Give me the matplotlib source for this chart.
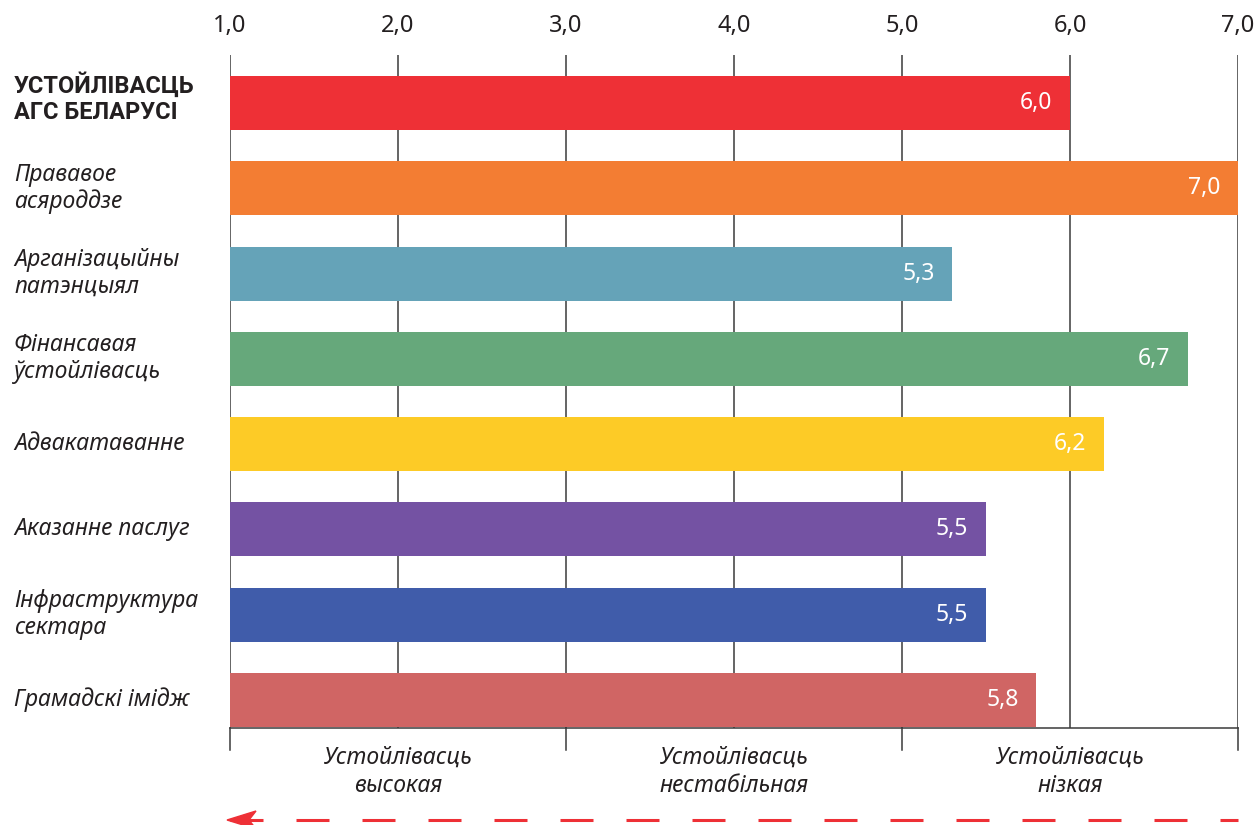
import matplotlib
matplotlib.use("Agg")
import matplotlib.pyplot as plt
from matplotlib.patches import Polygon
from matplotlib.transforms import blended_transform_factory, offset_copy

categories = [
    "УСТОЙЛІВАСЦЬ\nАГС БЕЛАРУСІ",
    "Прававое\nасяроддзе",
    "Арганізацыйны\nпатэнцыял",
    "Фінансавая\nўстойлівасць",
    "Адвакатаванне",
    "Аказанне паслуг",
    "Інфраструктура\nсектара",
    "Грамадскі імідж",
]
values = [6.0, 7.0, 5.3, 6.7, 6.2, 5.5, 5.5, 5.8]
colors = ["#EE3036", "#F37D33", "#65A3B8", "#66A87B", "#FDCB26",
          "#7452A3", "#405CAA", "#D06564"]
xticks = [1, 2, 3, 4, 5, 6, 7]
xtick_labels = ["1,0", "2,0", "3,0", "4,0", "5,0", "6,0", "7,0"]
zone_centers = [2, 4, 6]
zone_labels = ["Устойлівасць\nвысокая", "Устойлівасць\nнестабільная", "Устойлівасць\nнізкая"]
zone_edges = [1, 3, 5, 7]

FONT = "Noto Sans"
BOLDFONT = ["Roboto", "DejaVu Sans"]
TXT = "#231F20"
GRID = "#3A3A3A"

W, H = 1257, 825
fig = plt.figure(figsize=(W / 100, H / 100), dpi=100)
ax = fig.add_axes([230 / W, 1 - 728 / H, 1008 / W, (728 - 55) / H])

ypos = list(range(len(categories)))
ax.set_xlim(1, 7)
ax.set_ylim(7.33, -0.563)

for x in xticks:
    ax.axvline(x, color=GRID, lw=1.1, zorder=1)

ax.barh(ypos, [v - 1 for v in values], left=1, height=0.633,
        color=colors, zorder=2)

for y, v in zip(ypos, values):
    ax.text(v - 0.105, y, f"{v:.1f}".replace(".", ","), ha="right", va="center",
            color="white", fontsize=16.5, family=FONT, zorder=3)

# category labels
tr_lbl = blended_transform_factory(fig.transFigure, ax.transData)
tr_bold = offset_copy(tr_lbl, fig=fig, x=0, y=5, units="dots")
for i, (y, c) in enumerate(zip(ypos, categories)):
    if i == 0:
        ax.text(14 / W, y, c, transform=tr_bold, ha="left", va="center",
                fontsize=17, fontweight="bold", family=BOLDFONT, color=TXT,
                linespacing=1.15)
    else:
        ax.text(14 / W, y, c, transform=tr_lbl, ha="left", va="center",
                fontsize=16.5, style="italic", family=FONT, color=TXT,
                linespacing=1.15)

# axes styling
for s in ["left", "right", "top"]:
    ax.spines[s].set_visible(False)
ax.spines["bottom"].set_color(GRID)
ax.spines["bottom"].set_linewidth(1.1)
ax.set_yticks([])
ax.xaxis.set_ticks_position("top")
ax.set_xticks(xticks)
ax.set_xticklabels(xtick_labels, fontsize=17, family=FONT, color=TXT)
ax.tick_params(axis="x", length=0, pad=12)

# bottom zone separators and labels
tr_x = blended_transform_factory(ax.transData, fig.transFigure)
for x in zone_edges:
    ax.plot([x, x], [1 - 728 / H, 1 - 750 / H], transform=tr_x, color=GRID,
            lw=1.1, clip_on=False)
for x, lab in zip(zone_centers, zone_labels):
    ax.text(x, 1 - 772 / H, lab, transform=tr_x, ha="center", va="center",
            fontsize=16.5, style="italic", family=FONT, color=TXT,
            linespacing=1.2)

# dashed arrow
ya = 1 - 820 / H
ax.plot([1, 7], [ya, ya], transform=tr_x, color="#EE3036", lw=2.2,
        linestyle=(0, (10.8, 10.8)), clip_on=False, solid_capstyle="butt",
        dash_capstyle="butt")
arrow = Polygon([(227 / W, ya), (256 / W, 1 - 811 / H), (249 / W, ya),
                 (256 / W, 1 - 829 / H)], closed=True,
                transform=fig.transFigure, color="#EE3036")
fig.patches.append(arrow)

fig.savefig("out.png", dpi=100)
